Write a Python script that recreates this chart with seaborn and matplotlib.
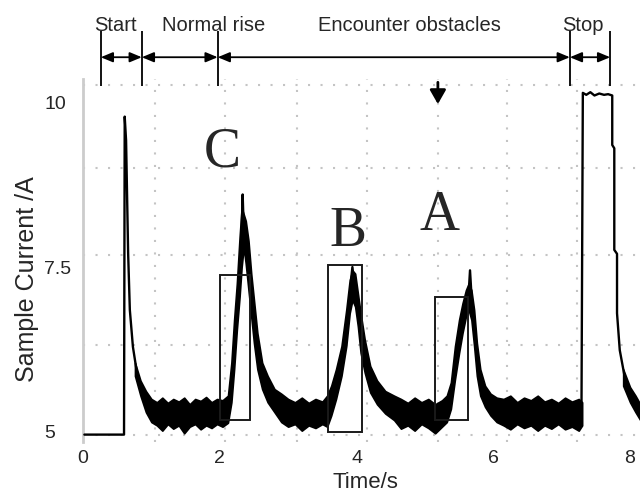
import numpy as np
import pandas as pd
import matplotlib.pyplot as plt
import seaborn as sns
from matplotlib.patches import Rectangle
from matplotlib.ticker import FixedLocator

# thin strokes of the current trace (time s, current A)
start_t = [0.02, 0.60, 0.61, 0.63, 0.66, 0.685, 0.73, 0.79, 0.86, 0.93, 1.02]
start_v = [4.96, 4.96, 9.78, 9.42, 7.71, 6.85, 6.29, 5.89, 5.64, 5.53, 5.40]
spike_t = [[2.32, 2.335, 2.35], [3.92, 3.94, 3.96], [5.64, 5.66, 5.68]]
spike_v = [[8.0, 8.6, 8.1], [7.3, 7.5, 7.3], [7.1, 7.45, 7.1]]
stop_t = [7.29, 7.31, 7.36, 7.42, 7.48, 7.55, 7.62, 7.68, 7.74, 7.74, 7.77, 7.77,
          7.81, 7.81, 7.85, 7.93, 8.03, 8.15]
stop_v = [5.30, 10.14, 10.11, 10.15, 10.10, 10.13, 10.11, 10.12, 10.10, 9.35, 9.30, 7.76,
          7.70, 6.80, 6.24, 5.79, 5.53, 5.29]

# noisy part of the trace: lower / upper envelope
band_t = [0.76, 0.84, 0.92, 1.00, 1.08, 1.16, 1.24, 1.32, 1.40, 1.48, 1.56, 1.64, 1.72, 1.80,
          1.88, 1.96, 2.04, 2.12,
          2.17, 2.21, 2.25, 2.29, 2.32, 2.35, 2.38, 2.42, 2.46, 2.50, 2.55, 2.62, 2.70, 2.80,
          2.90, 3.00, 3.10, 3.20, 3.30, 3.40, 3.50, 3.57,
          3.63, 3.70, 3.78, 3.85, 3.90, 3.94, 3.98, 4.02, 4.06, 4.12, 4.20, 4.30, 4.42,
          4.55, 4.65, 4.75, 4.85, 4.95, 5.05, 5.15, 5.25, 5.32,
          5.38, 5.44, 5.50, 5.55, 5.60, 5.64, 5.68, 5.72, 5.76, 5.81, 5.88, 5.96, 6.05,
          6.15, 6.25, 6.35, 6.45, 6.55, 6.65, 6.75, 6.85, 6.95, 7.05, 7.15, 7.25, 7.30]
band_lo = [5.85, 5.55, 5.30, 5.15, 5.10, 5.02, 5.12, 5.05, 5.10, 4.98, 5.08, 5.12, 5.04, 5.10,
           5.06, 5.12, 5.08, 5.14,
           5.45, 5.95, 6.55, 7.05, 7.50, 7.80, 7.55, 7.15, 6.75, 6.35, 5.95, 5.65, 5.45, 5.30,
           5.15, 5.08, 5.12, 5.02, 5.10, 5.06, 5.12, 5.08,
           5.25, 5.50, 5.85, 6.30, 6.80, 7.00, 6.90, 6.60, 6.20, 5.90, 5.60, 5.42, 5.28,
           5.18, 5.05, 5.10, 5.02, 5.12, 5.06, 4.98, 5.08, 5.15,
           5.35, 5.80, 6.20, 6.50, 6.75, 6.85, 6.70, 6.30, 5.85, 5.55, 5.38, 5.25, 5.15,
           5.10, 5.04, 5.12, 5.06, 5.10, 5.02, 5.10, 5.05, 5.12, 5.04, 5.08, 5.02, 5.10]
band_hi = [6.05, 5.78, 5.62, 5.50, 5.45, 5.52, 5.44, 5.50, 5.46, 5.52, 5.42, 5.50, 5.47, 5.53,
           5.45, 5.50, 5.48, 5.55,
           6.05, 6.70, 7.25, 7.95, 8.40, 8.30, 8.20, 7.90, 7.40, 7.00, 6.50, 6.05, 5.85, 5.65,
           5.58, 5.50, 5.45, 5.52, 5.44, 5.50, 5.46, 5.55,
           5.70, 5.95, 6.30, 6.85, 7.30, 7.45, 7.40, 7.10, 6.80, 6.40, 6.00, 5.78, 5.62,
           5.55, 5.50, 5.44, 5.52, 5.45, 5.50, 5.42, 5.48, 5.55,
           5.75, 6.30, 6.70, 6.95, 7.15, 7.25, 7.15, 6.85, 6.35, 5.95, 5.70, 5.58, 5.52,
           5.50, 5.55, 5.45, 5.52, 5.48, 5.55, 5.46, 5.50, 5.44, 5.52, 5.46, 5.50, 5.45]
tail_t = [7.90, 8.00, 8.08, 8.15]
tail_lo = [5.70, 5.45, 5.30, 5.18]
tail_hi = [5.95, 5.68, 5.55, 5.42]

# obstacle boxes C, B, A
box_names = ["C", "B", "A"]
box_left = [2.00, 3.58, 5.15]
box_right = [2.44, 4.08, 5.63]
box_bottom = [5.18, 5.00, 5.18]
box_top = [7.38, 7.53, 7.05]
letter_t = [2.03, 3.87, 5.21]
letter_v = [9.24, 8.03, 8.27]

# phases marked above the plot
phase_names = ["Start", "Normal rise", "Encounter obstacles", "Stop"]
phase_edges = [0.26, 0.86, 1.97, 7.12, 7.71]
phase_label_t = [0.48, 1.91, 4.78, 7.31]
arrow_t = 5.19

sns.set_style("white")
plt.rcParams['font.family'] = ['Liberation Sans', 'DejaVu Sans']

fig = plt.figure(figsize=(6.4, 4.97), dpi=100)
ax = fig.add_axes([83 / 640, 55 / 497, 557 / 640, 363 / 497])

# dotted scope grid
for gx in [1.05, 2.07, 3.13, 4.15, 5.19, 6.20, 7.23]:
    ax.axvline(gx, color='#c4c4c4', lw=1.5, ls=(0, (1, 5)), zorder=0)
for gy in [4.95, 6.32, 7.68, 9.0, 10.26]:
    ax.axhline(gy, color='#c4c4c4', lw=1.5, ls=(0, (1, 5)), zorder=0)

rows = [pd.DataFrame({'t': start_t, 'v': start_v, 'seg': 0}),
        pd.DataFrame({'t': stop_t, 'v': stop_v, 'seg': 4})]
for i in range(3):
    rows.append(pd.DataFrame({'t': spike_t[i], 'v': spike_v[i], 'seg': i + 1}))
df = pd.concat(rows, ignore_index=True)
sns.lineplot(data=df, x='t', y='v', units='seg', estimator=None, sort=False,
             color='black', lw=1.7, ax=ax, zorder=3)

ax.fill_between(band_t, band_lo, band_hi, color='black', lw=1.2, zorder=3)
ax.fill_between(tail_t, tail_lo, tail_hi, color='black', lw=1.2, zorder=3)

for i in range(3):
    ax.add_patch(Rectangle((box_left[i], box_bottom[i]), box_right[i] - box_left[i],
                           box_top[i] - box_bottom[i], fill=False, ec='#1a1a1a', lw=1.4, zorder=4))
    ax.text(letter_t[i], letter_v[i], box_names[i], fontsize=40, ha='center', va='center',
            family=['Liberation Serif', 'DejaVu Serif'])

# phase markers above the axes
ax.vlines(phase_edges, 10.24, 11.08, color='black', lw=1.3, clip_on=False)
for i in range(4):
    ax.annotate('', xy=(phase_edges[i + 1], 10.68), xytext=(phase_edges[i], 10.68),
                arrowprops=dict(arrowstyle='<|-|>,head_length=0.6,head_width=0.25',
                                mutation_scale=12, color='black', lw=1.3,
                                shrinkA=0, shrinkB=0),
                annotation_clip=False)
    ax.text(phase_label_t[i], 11.08, phase_names[i], fontsize=14.5, ha='center', va='baseline')

ax.annotate('', xy=(arrow_t, 9.97), xytext=(arrow_t, 10.30),
            arrowprops=dict(arrowstyle='-|>,head_length=0.7,head_width=0.4',
                            mutation_scale=12, color='black', lw=2, shrinkA=0, shrinkB=0),
            annotation_clip=False)

ax.set_xlim(0, 8.146)
ax.set_ylim(4.848, 10.35)
ax.set_xticks([0, 2, 4, 6, 8])
ax.set_yticks([5, 7.5, 10])
ax.set_yticklabels(['5', '7.5', '10'])
ax.set_xlabel('')
ax.set_ylabel('')
ax.xaxis.set_minor_locator(FixedLocator(np.arange(0.2, 8.1, 0.2)))
ax.yaxis.set_minor_locator(FixedLocator(np.arange(5.2, 10.3, 0.27)))
ax.tick_params(axis='both', which='major', length=0, labelsize=14)
ax.tick_params(axis='x', which='major', pad=6)
ax.tick_params(axis='y', which='major', pad=28)
ax.tick_params(which='minor', direction='in', color='#c8c8c8', width=1.5)
ax.tick_params(axis='x', which='minor', length=7)
ax.tick_params(axis='y', which='minor', length=5)
for lab in ax.get_yticklabels():
    lab.set_horizontalalignment('left')
for s in ['top', 'right', 'bottom']:
    ax.spines[s].set_visible(False)
ax.spines['left'].set_color('#cccccc')
ax.spines['left'].set_linewidth(2)

fig.text(365 / 640, 15 / 497, 'Time/s', fontsize=16, ha='center', va='center')
fig.text(27 / 640, 218 / 497, 'Sample Current /A', fontsize=18, rotation=90,
         ha='center', va='center')

fig.savefig('out.png', dpi=100)
